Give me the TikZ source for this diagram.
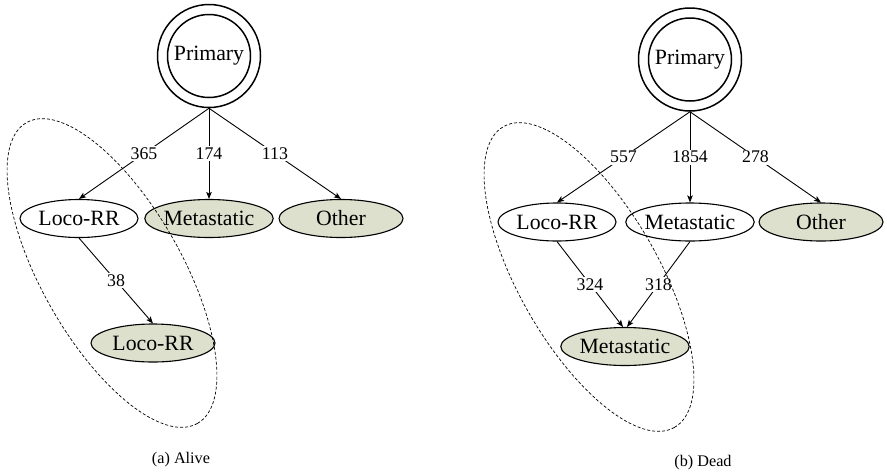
\documentclass[tikz,border=0pt]{standalone}
\usepackage{fontspec}
\setmainfont{Liberation Serif}
\usetikzlibrary{shapes.geometric,arrows.meta}
\definecolor{sage}{RGB}{221,224,204}
\begin{document}
\begin{tikzpicture}[x=1pt,y=-1pt,
  state/.style={ellipse,draw,line width=1.1pt,minimum width=124pt,minimum height=38pt,
    inner sep=0pt,font=\fontsize{21.8}{24}\selectfont},
  narrow/.style={minimum width=118pt},
  shaded/.style={fill=sage},
  origin/.style={circle,draw,line width=1.5pt,minimum size=103pt,inner sep=0pt,
    font=\fontsize{21.8}{24}\selectfont},
  flow/.style={line width=0.9pt,-{Stealth[length=7pt,width=5.5pt,inset=1.5pt]}},
  count/.style={fill=white,inner sep=1.5pt,font=\fontsize{17.8}{20}\selectfont},
  group/.style={dashed,dash pattern=on 3pt off 2pt,line width=0.7pt},
  caption/.style={font=\fontsize{16.2}{19}\selectfont}]
\useasboundingbox (0,0) rectangle (887,475);

% ---------- (a) Alive ----------
\node[origin] (P1) at (209,56) {Primary};
\draw[line width=1.5pt] (P1.center) circle [radius=41.5pt];
\node[state,narrow] (L1) at (79,218.5) {Loco-RR};
\node[state,shaded] (M1) at (209,218.5) {Metastatic};
\node[state,shaded] (O1) at (341,218.5) {Other};
\node[state,shaded] (L1b) at (153,343) {Loco-RR};

\draw[flow] (P1.south) -- node[count] {365} (L1.north);
\draw[flow] (P1.south) -- node[count] {174} (M1.north);
\draw[flow] (P1.south) -- node[count] {113} (O1.north);
\draw[flow] (L1.south) -- node[count] {38} (L1b.north);

\begin{scope}[shift={(112,273)},rotate=-60.4]
  \draw[group] (0pt,0pt) ellipse [x radius=173pt,y radius=70pt];
\end{scope}

\node[caption] (capA) at (181,460) {(a) Alive};

% ---------- (b) Dead ----------
\node[origin] (P2) at (690,59.5) {Primary};
\draw[line width=1.5pt] (P2.center) circle [radius=41.5pt];
\node[state,narrow] (L2) at (557,222) {Loco-RR};
\node[state] (M2) at (690,222) {Metastatic};
\node[state,shaded] (O2) at (821,222) {Other};
\node[state,shaded] (M2b) at (625,346.5) {Metastatic};

\draw[flow] (P2.south) -- node[count] {557} (L2.north);
\draw[flow] (P2.south) -- node[count] {1854} (M2.north);
\draw[flow] (P2.south) -- node[count] {278} (O2.north);
\draw[flow] (L2.south) -- node[count] {324} ([xshift=-2pt]M2b.north);
\draw[flow] (M2.south) -- node[count] {318} ([xshift=2pt]M2b.north);

\begin{scope}[shift={(589,277)},rotate=-60.4]
  \draw[group] (0pt,0pt) ellipse [x radius=173pt,y radius=70pt];
\end{scope}

\node[caption] (capB) at (703,463) {(b) Dead};
\end{tikzpicture}
\end{document}
